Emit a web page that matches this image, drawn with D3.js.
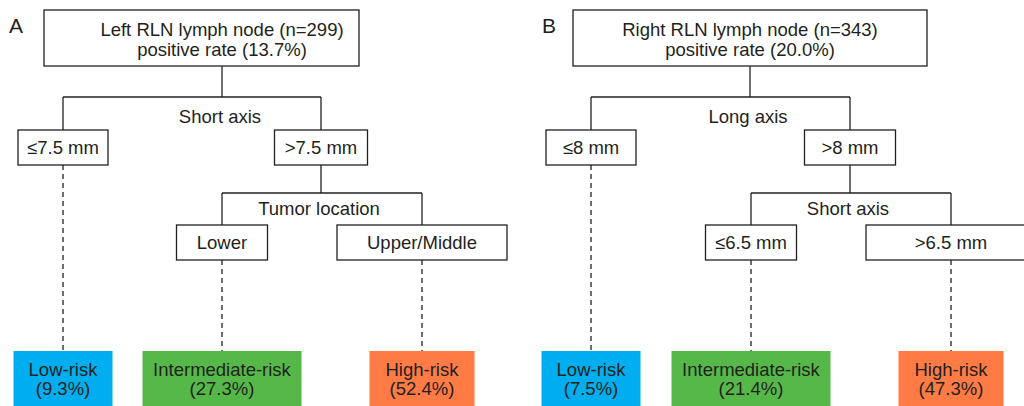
<!DOCTYPE html>
<html>
<head>
<meta charset="utf-8">
<script src="https://cdn.jsdelivr.net/npm/d3@7"></script>
<style>
  html, body { margin: 0; padding: 0; background: #fff; }
  svg { display: block; }
</style>
</head>
<body>
<svg id="chart" width="1024" height="406"></svg>
<script>
// ---------- data ----------
const panelLetters = ["A", "B"];
const rootTitles = ["Left RLN lymph node (n=299)", "Right RLN lymph node (n=343)"];
const rootRates = ["13.7%", "20.0%"];
const firstSplit = ["Short axis", "Long axis"];
const firstLeft = ["≤7.5 mm", "≤8 mm"];
const firstRight = [">7.5 mm", ">8 mm"];
const secondSplit = ["Tumor location", "Short axis"];
const secondLeft = ["Lower", "≤6.5 mm"];
const secondRight = ["Upper/Middle", ">6.5 mm"];
const riskLevels = ["Low-risk", "Intermediate-risk", "High-risk"];
const riskRatesA = ["9.3%", "27.3%", "52.4%"];
const riskRatesB = ["7.5%", "21.4%", "47.3%"];
const riskRates = [riskRatesA, riskRatesB];
const riskColors = ["#00aeef", "#56b848", "#ff7b45"];

// ---------- layout (per panel geometry) ----------
const layout = [
  { letterX: 9,   root: [44, 359],  rootStem: 222, leafX: [63, 222, 422],
    b1w: [90, 93], b2w: [91, 170], leafW: [99, 159, 105] },
  { letterX: 542, root: [573, 927], rootStem: 750, leafX: [591, 751, 951],
    b1w: [90, 91], b2w: [91, 170], leafW: [99, 159, 105] }
];
// vertical levels
const y = d3.scaleOrdinal()
  .domain(["rootTop", "rootBot", "bar1", "box1Top", "box1Bot", "bar2", "box2Top", "box2Bot", "leafTop", "leafBot"])
  .range([10, 66, 97, 130, 165, 193, 225, 260, 351, 407]);

const ink = "#231f20";
const font = "'Liberation Sans', Arial, Helvetica, sans-serif";
const fs = 18.5;
const svg = d3.select("#chart");

function line(g, x1, y1, x2, y2, dashed) {
  g.append("line").attr("x1", x1).attr("y1", y1).attr("x2", x2).attr("y2", y2)
    .attr("stroke", ink).attr("stroke-width", 1.3)
    .attr("stroke-dasharray", dashed ? "5,4" : null);
}
function label(g, x, yy, t) {
  g.append("text").attr("x", x).attr("y", yy).attr("text-anchor", "middle")
    .attr("font-family", font).attr("font-size", fs).attr("fill", ink).text(t);
}
function box(g, cx, w, top, bot, t) {
  g.append("rect").attr("x", cx - w / 2).attr("y", top).attr("width", w).attr("height", bot - top)
    .attr("fill", "#fff").attr("stroke", ink).attr("stroke-width", 1.3);
  label(g, cx, (top + bot) / 2 + 6.7, t);
}

panelLetters.forEach((letter, i) => {
  const L = layout[i];
  const g = svg.append("g");
  const [lx, mx, rx] = L.leafX;

  // panel letter
  g.append("text").attr("x", L.letterX).attr("y", 33).attr("font-family", font)
    .attr("font-size", 21).attr("fill", ink).text(letter);

  // root box
  g.append("rect").attr("x", L.root[0]).attr("y", y("rootTop"))
    .attr("width", L.root[1] - L.root[0]).attr("height", y("rootBot") - y("rootTop"))
    .attr("fill", "#fff").attr("stroke", ink).attr("stroke-width", 1.3);
  label(g, L.rootStem, 36, rootTitles[i]);
  label(g, L.rootStem, 55.5, "positive rate (" + rootRates[i] + ")");

  // first split
  const s1L = lx, s1R = (mx + rx) / 2 - 1;
  line(g, L.rootStem, y("rootBot"), L.rootStem, y("bar1"));
  line(g, s1L, y("bar1"), s1R, y("bar1"));
  line(g, s1L, y("bar1"), s1L, y("box1Top"));
  line(g, s1R, y("bar1"), s1R, y("box1Top"));
  label(g, L.rootStem - 2, 123, firstSplit[i]);
  box(g, s1L, L.b1w[0], y("box1Top"), y("box1Bot"), firstLeft[i]);
  box(g, s1R, L.b1w[1], y("box1Top"), y("box1Bot"), firstRight[i]);

  // second split
  line(g, s1R, y("box1Bot"), s1R, y("bar2"));
  line(g, mx, y("bar2"), rx, y("bar2"));
  line(g, mx, y("bar2"), mx, y("box2Top"));
  line(g, rx, y("bar2"), rx, y("box2Top"));
  label(g, s1R - 2, 215, secondSplit[i]);
  box(g, mx, L.b2w[0], y("box2Top"), y("box2Bot"), secondLeft[i]);
  box(g, rx, L.b2w[1], y("box2Top"), y("box2Bot"), secondRight[i]);

  // dashed lines to leaves
  line(g, lx, y("box1Bot"), lx, y("leafTop"), true);
  line(g, mx, y("box2Bot"), mx, y("leafTop"), true);
  line(g, rx, y("box2Bot"), rx, y("leafTop"), true);

  // leaves
  L.leafX.forEach((cx, j) => {
    const w = L.leafW[j];
    g.append("rect").attr("x", cx - w / 2).attr("y", y("leafTop"))
      .attr("width", w).attr("height", y("leafBot") - y("leafTop")).attr("fill", riskColors[j]);
    label(g, cx, 376, riskLevels[j]);
    label(g, cx, 395, "(" + riskRates[i][j] + ")");
  });
});
</script>
</body>
</html>
